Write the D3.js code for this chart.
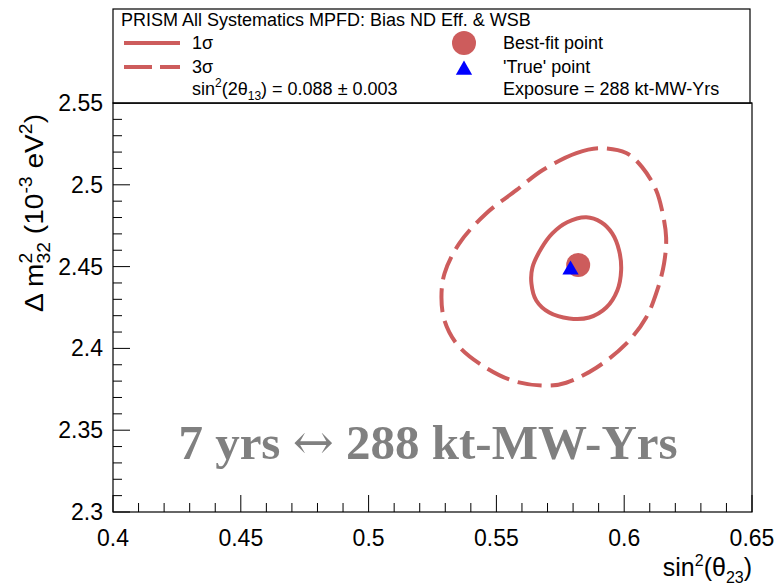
<!DOCTYPE html>
<html>
<head>
<meta charset="UTF-8">
<title>PRISM contours</title>
<script src="https://d3js.org/d3.v7.min.js"></script>
<style>
  body { margin: 0; background: #fff; }
  text { font-family: "Liberation Sans", Arial, sans-serif; fill: #000; }
</style>
</head>
<body>
<div id="chart"></div>
<script>
// axis ticks
var xTicks = [0.4, 0.45, 0.5, 0.55, 0.6, 0.65];
var yTicks = [2.3, 2.35, 2.4, 2.45, 2.5, 2.55];

// 1 sigma contour (solid)
var sig1X = [0.5852, 0.5910, 0.5953, 0.5980, 0.5988, 0.5973, 0.5930, 0.5863,
             0.5785, 0.5707, 0.5656, 0.5637, 0.5641, 0.5676, 0.5719, 0.5777];
var sig1Y = [2.4801, 2.4771, 2.4703, 2.4599, 2.4477, 2.4354, 2.4250, 2.4189,
             2.4183, 2.4219, 2.4293, 2.4397, 2.4495, 2.4612, 2.4703, 2.4771];

// 3 sigma contour (dashed)
var sig3X = [0.5902, 0.5813, 0.5680, 0.5578, 0.5461, 0.5355, 0.5297, 0.5285,
             0.5297, 0.5344, 0.5434, 0.5563, 0.5695, 0.5773, 0.5891, 0.6008,
             0.6086, 0.6129, 0.6156, 0.6164, 0.6148, 0.6125, 0.6070, 0.6008];
var sig3Y = [2.5224, 2.5194, 2.5089, 2.4967, 2.4826, 2.4642, 2.4458, 2.4311,
             2.4170, 2.4029, 2.3907, 2.3803, 2.3772, 2.3790, 2.3882, 2.4029,
             2.4189, 2.4354, 2.4520, 2.4679, 2.4844, 2.4967, 2.5108, 2.5194];

var bestFit = [0.582, 2.451];
var truePoint = [0.579, 2.448];

var W = 776, H = 586;
var red = "#cd5c5c";

var svg = d3.select("#chart").append("svg")
    .attr("width", W)
    .attr("height", H);

var x = d3.scaleLinear().domain([0.4, 0.65]).range([113, 752]);
var y = d3.scaleLinear().domain([2.3, 2.55]).range([512, 103]);

// minor ticks every 0.01
var xMinor = d3.range(0, 26).map(function(i) { return 0.4 + i * 0.01; });
var yMinor = d3.range(0, 26).map(function(i) { return 2.3 + i * 0.01; });

// x axis ticks (inside frame)
svg.append("g").selectAll("line")
   .data(xMinor)
   .enter().append("line")
   .attr("x1", function(d) { return x(d); })
   .attr("x2", function(d) { return x(d); })
   .attr("y1", y(2.3))
   .attr("y2", function(d, i) { return y(2.3) - (i % 5 === 0 ? 17 : 9); })
   .attr("stroke", "#000");

svg.append("g").selectAll("line")
   .data(yMinor)
   .enter().append("line")
   .attr("y1", function(d) { return y(d); })
   .attr("y2", function(d) { return y(d); })
   .attr("x1", x(0.4))
   .attr("x2", function(d, i) { return x(0.4) + (i % 5 === 0 ? 17 : 9); })
   .attr("stroke", "#000");

// frame
svg.append("rect")
   .attr("x", x(0.4))
   .attr("y", y(2.55))
   .attr("width", x(0.65) - x(0.4))
   .attr("height", y(2.3) - y(2.55))
   .attr("fill", "none")
   .attr("stroke", "#000")
   .attr("stroke-width", 1.2);

// tick labels
svg.append("g").selectAll("text")
   .data(xTicks)
   .enter().append("text")
   .attr("x", function(d) { return x(d); })
   .attr("y", y(2.3) + 34)
   .attr("text-anchor", "middle")
   .attr("font-size", 23)
   .text(function(d) { return d3.format("")(d); });

svg.append("g").selectAll("text")
   .data(yTicks)
   .enter().append("text")
   .attr("x", x(0.4) - 10)
   .attr("y", function(d) { return y(d) + 8; })
   .attr("text-anchor", "end")
   .attr("font-size", 23)
   .text(function(d) { return d3.format("")(d); });

// axis titles
var xt = svg.append("text")
   .attr("x", x(0.65))
   .attr("y", 576)
   .attr("text-anchor", "end")
   .attr("font-size", 25);
xt.append("tspan").text("sin");
xt.append("tspan").attr("font-size", 16).attr("dy", -10).text("2");
xt.append("tspan").attr("dy", 10).text("(θ");
xt.append("tspan").attr("font-size", 16).attr("dy", 7).text("23");
xt.append("tspan").attr("dy", -7).text(")");

var yt = svg.append("text")
   .attr("text-anchor", "start")
   .attr("font-size", 26);
yt.append("tspan").text("Δ  m");
yt.append("tspan").attr("font-size", 18).attr("dy", -11).text("2");
yt.append("tspan").attr("font-size", 18).attr("dx", -10).attr("dy", 18).text("32");
yt.append("tspan").attr("dy", -7).text("  (10");
yt.append("tspan").attr("font-size", 18).attr("dy", -11).text("-3");
yt.append("tspan").attr("dy", 11).text(" eV");
yt.append("tspan").attr("font-size", 18).attr("dy", -11).text("2");
yt.append("tspan").attr("dy", 11).text(")");
// stretch along its length to span from the top of the axis, as in the original
var ytLen = yt.node().getComputedTextLength();
yt.attr("transform", "translate(43,312) rotate(-90) scale(" + (209 / ytLen) + ",1)");

// contours
var line = d3.line()
    .x(function(d) { return x(d[0]); })
    .y(function(d) { return y(d[1]); })
    .curve(d3.curveCatmullRomClosed);

svg.append("path")
   .attr("d", line(d3.zip(sig3X, sig3Y)))
   .attr("fill", "none")
   .attr("stroke", red)
   .attr("stroke-width", 4)
   .attr("stroke-dasharray", "24 9");

svg.append("path")
   .attr("d", line(d3.zip(sig1X, sig1Y)))
   .attr("fill", "none")
   .attr("stroke", red)
   .attr("stroke-width", 4);

svg.append("circle")
   .attr("cx", x(bestFit[0]))
   .attr("cy", y(bestFit[1]))
   .attr("r", 12)
   .attr("fill", red);

var tri = d3.symbol().type(d3.symbolTriangle).size(115);
svg.append("path")
   .attr("d", tri())
   .attr("transform", "translate(" + x(truePoint[0]) + "," + y(truePoint[1]) + ")")
   .attr("fill", "#0000ff");

// big annotation
var big = svg.append("text")
   .attr("x", 428)
   .attr("y", 459)
   .attr("text-anchor", "middle")
   .attr("font-size", 49)
   .attr("font-weight", "bold")
   .style("font-family", "'Liberation Serif', 'Times New Roman', serif")
   .style("fill", "#808080");
big.append("tspan").text("7 yrs ");
big.append("tspan")
   .attr("font-weight", "normal")
   .style("font-family", "'DejaVu Serif', serif")
   .text("↔");
big.append("tspan").text(" 288 kt-MW-Yrs");

// legend box
svg.append("rect")
   .attr("x", 113)
   .attr("y", 9)
   .attr("width", 637)
   .attr("height", y(2.55) - 9)
   .attr("fill", "#fff")
   .attr("stroke", "#000")
   .attr("stroke-width", 1.2);
svg.append("line")
   .attr("x1", x(0.4)).attr("x2", x(0.65))
   .attr("y1", y(2.55)).attr("y2", y(2.55))
   .attr("stroke", "#000").attr("stroke-width", 1.2);

svg.append("text").attr("x", 121).attr("y", 26).attr("font-size", 18)
   .text("PRISM All Systematics MPFD: Bias ND Eff. & WSB");

svg.append("line").attr("x1", 124).attr("x2", 180).attr("y1", 43).attr("y2", 43)
   .attr("stroke", red).attr("stroke-width", 4);
svg.append("line").attr("x1", 124).attr("x2", 180).attr("y1", 67).attr("y2", 67)
   .attr("stroke", red).attr("stroke-width", 4).attr("stroke-dasharray", "28 8");

svg.append("text").attr("x", 192).attr("y", 49).attr("font-size", 18).text("1σ");
svg.append("text").attr("x", 192).attr("y", 73).attr("font-size", 18).text("3σ");
var st = svg.append("text").attr("x", 192).attr("y", 95).attr("font-size", 18);
st.append("tspan").text("sin");
st.append("tspan").attr("font-size", 12).attr("dy", -8).text("2");
st.append("tspan").attr("dy", 8).text("(2θ");
st.append("tspan").attr("font-size", 12).attr("dy", 5).text("13");
st.append("tspan").attr("dy", -5).text(") = 0.088 ± 0.003");

svg.append("circle").attr("cx", 464).attr("cy", 43).attr("r", 12).attr("fill", red);
svg.append("path").attr("d", tri())
   .attr("transform", "translate(464,70)")
   .attr("fill", "#0000ff");

svg.append("text").attr("x", 503).attr("y", 49).attr("font-size", 18).text("Best-fit point");
svg.append("text").attr("x", 503).attr("y", 73).attr("font-size", 18).text("'True' point");
svg.append("text").attr("x", 503).attr("y", 95).attr("font-size", 18).text("Exposure = 288 kt-MW-Yrs");
</script>
</body>
</html>
